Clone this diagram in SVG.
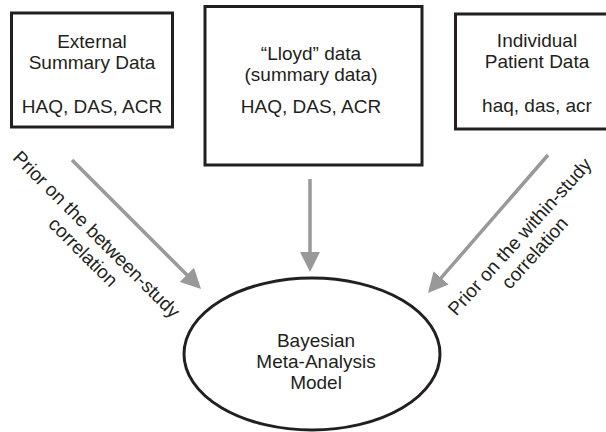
<svg xmlns="http://www.w3.org/2000/svg" width="606" height="432" viewBox="0 0 606 432">
  <style>
    .box { fill: #ffffff; stroke: #231f20; stroke-width: 3; }
    .lbl { font-family: "Liberation Sans", Arial, Helvetica, sans-serif; font-size: 19px; fill: #231f20; text-anchor: middle; }
    .edge { stroke: #999999; stroke-width: 3.5; fill: none; marker-end: url(#head); }
  </style>
  <defs>
    <marker id="head" markerUnits="userSpaceOnUse" markerWidth="20" markerHeight="20" refX="2" refY="10" orient="auto" viewBox="0 0 20 20">
      <path d="M0,0 L20,10 L0,20 Z" fill="#999999"/>
    </marker>
  </defs>
  <rect width="606" height="432" fill="#ffffff"/>

  <g id="external-summary">
    <rect class="box" x="11.5" y="13" width="161" height="114"/>
    <text class="lbl" x="92" y="48">External</text>
    <text class="lbl" x="92" y="69">Summary Data</text>
    <text class="lbl" x="92" y="113">HAQ, DAS, ACR</text>
  </g>

  <g id="lloyd-data">
    <rect class="box" x="205" y="6.5" width="217" height="158.5"/>
    <text class="lbl" x="311" y="60">“Lloyd” data</text>
    <text class="lbl" x="311" y="81">(summary data)</text>
    <text class="lbl" x="311" y="113">HAQ, DAS, ACR</text>
  </g>

  <g id="individual-patient">
    <rect class="box" x="455.5" y="14" width="165" height="115"/>
    <text class="lbl" x="537" y="47">Individual</text>
    <text class="lbl" x="537" y="68">Patient Data</text>
    <text class="lbl" x="537" y="112">haq, das, acr</text>
  </g>

  <g id="bayesian-model">
    <ellipse class="box" cx="312" cy="354" rx="128" ry="76"/>
    <text class="lbl" x="316" y="347">Bayesian</text>
    <text class="lbl" x="316" y="368">Meta-Analysis</text>
    <text class="lbl" x="316" y="389">Model</text>
  </g>

  <g id="connectors">
    <line class="edge" x1="72" y1="160" x2="188.3" y2="276.3"/>
    <line class="edge" x1="310" y1="179" x2="310" y2="254"/>
    <line class="edge" x1="548" y1="155" x2="439.8" y2="279.4"/>
  </g>

  <g id="connector-labels">
    <g transform="translate(92 239) rotate(45)">
      <text class="lbl" x="0" y="0">Prior on the between-study</text>
      <text class="lbl" x="3" y="22">correlation</text>
    </g>
    <g transform="translate(524.5 241) rotate(-48)">
      <text class="lbl" x="0" y="0">Prior on the within-study</text>
      <text class="lbl" x="-2" y="22">correlation</text>
    </g>
  </g>
</svg>
